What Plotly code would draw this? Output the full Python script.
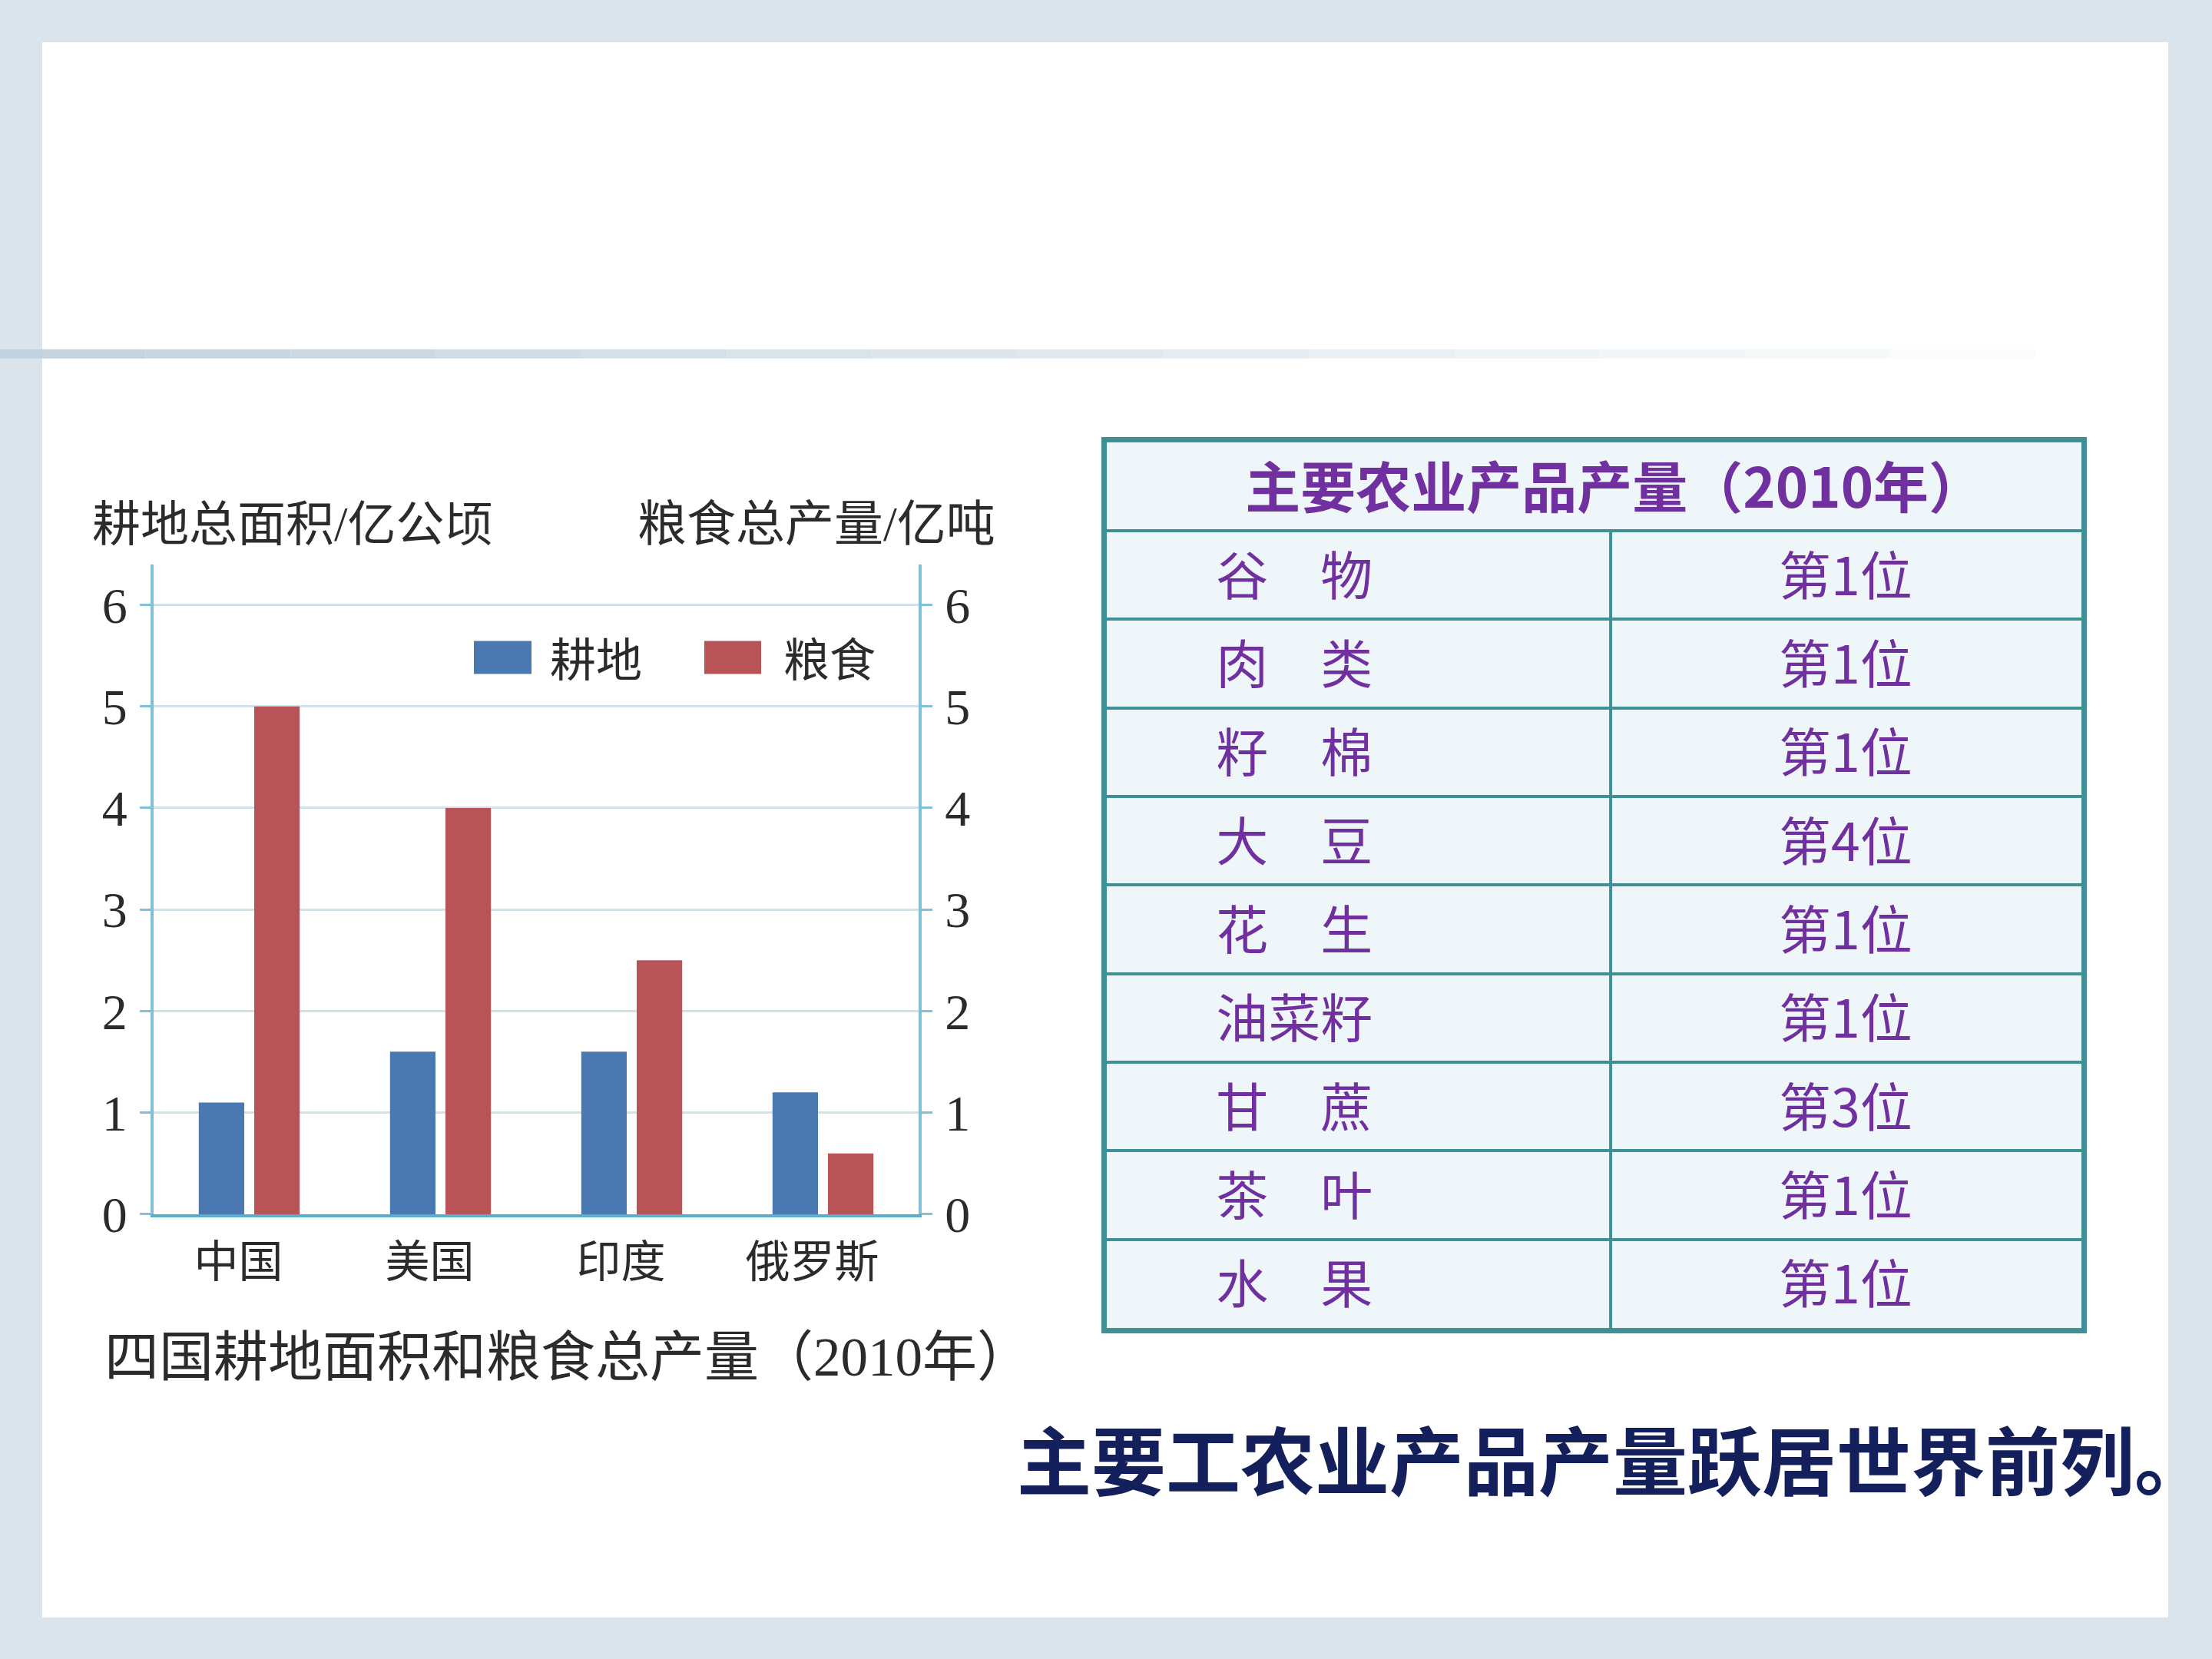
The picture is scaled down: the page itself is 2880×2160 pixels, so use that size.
import plotly.graph_objects as go

# ---------------- data ----------------
countries = ["中国", "美国", "印度", "俄罗斯"]
arable_area = [1.1, 1.6, 1.6, 1.2]      # 耕地总面积 / 亿公顷
grain_output = [5.0, 4.0, 2.5, 0.6]     # 粮食总产量 / 亿吨
y_ticks = [0, 1, 2, 3, 4, 5, 6]

products = ["谷　物", "肉　类", "籽　棉", "大　豆", "花　生", "油菜籽", "甘　蔗", "茶　叶", "水　果"]
ranks = [1, 1, 1, 4, 1, 1, 3, 1, 1]
table_title = "主要农业产品产量（2010年）"

# ---------------- helpers ----------------
W, H = 2880, 2160
S = 0.9835   # vertical correction for the capture
def X(px):
    return px / W
def Y(py):
    return 1 - (py / S) / H

BLUE = "#4a78b0"
RED = "#b85458"
AXIS = "#80c0d8"
GRID = "#cfe3ea"
TEAL = "#3f9094"
PURPLE = "#7030a0"
TXT = "#2b2b2b"
BG = "#dbe4eb"
CJK = "Noto Sans CJK SC"
SERIF = "Liberation Serif, Noto Sans CJK SC"

fig = go.Figure()

fig.add_trace(go.Bar(
    x=countries, y=arable_area, name="耕地", marker=dict(color=BLUE, line=dict(width=0)),
    offsetgroup="a", alignmentgroup="g", xaxis="x", yaxis="y", hoverinfo="skip", showlegend=False))
fig.add_trace(go.Bar(
    x=countries, y=grain_output, name="粮食", marker=dict(color=RED, line=dict(width=0)),
    offsetgroup="b", alignmentgroup="g", xaxis="x", yaxis="y2", hoverinfo="skip", showlegend=False))

# ---------------- table (own axes) ----------------
TXT_DY = 0.08  # small optical offset so glyphs sit centred in each row
row_text_y = [i + 1.5 + TXT_DY for i in range(len(products))]
fig.add_trace(go.Scatter(
    x=[0.112] * len(products), y=row_text_y, text=products, mode="text",
    textposition="middle right", textfont=dict(family=CJK, size=68, color=PURPLE),
    xaxis="x3", yaxis="y3", hoverinfo="skip", showlegend=False))
fig.add_trace(go.Scatter(
    x=[0.758] * len(ranks), y=row_text_y, text=[f"第{r}位" for r in ranks], mode="text",
    textposition="middle center", textfont=dict(family=CJK, size=68, color=PURPLE),
    xaxis="x3", yaxis="y3", hoverinfo="skip", showlegend=False))
fig.add_trace(go.Scatter(
    x=[0.521], y=[0.5 + TXT_DY], text=[f"<b>{table_title}</b>"], mode="text",
    textposition="middle center", textfont=dict(family=CJK, size=72, color=PURPLE),
    xaxis="x3", yaxis="y3", hoverinfo="skip", showlegend=False))

shapes = []
# slide background panel
shapes.append(dict(type="rect", xref="paper", yref="paper", x0=X(55), x1=X(2823), y0=Y(55), y1=Y(2107),
                   fillcolor="white", line=dict(width=0), layer="below"))
# fading band under title area
n_seg = 14
for i in range(n_seg):
    a = 0.95 * (1 - i / n_seg)
    shapes.append(dict(type="rect", xref="paper", yref="paper",
                       x0=X(0 + i * 2650 / n_seg), x1=X(0 + (i + 1) * 2650 / n_seg),
                       y0=Y(455), y1=Y(467), fillcolor=f"rgba(192,209,221,{a:.3f})",
                       line=dict(width=0), layer="below"))
# legend swatches
shapes.append(dict(type="rect", xref="paper", yref="paper", x0=X(617), x1=X(692), y0=Y(835), y1=Y(878),
                   fillcolor=BLUE, line=dict(width=0)))
shapes.append(dict(type="rect", xref="paper", yref="paper", x0=X(917), x1=X(991), y0=Y(835), y1=Y(878),
                   fillcolor=RED, line=dict(width=0)))
# table fill and column divider
shapes.append(dict(type="rect", xref="x3", yref="y3", x0=0, x1=1, y0=0, y1=10,
                   fillcolor="#eff6f9", line=dict(width=0), layer="below"))
shapes.append(dict(type="line", xref="x3", yref="y3", x0=0.517, x1=0.517, y0=1, y1=10,
                   line=dict(color=TEAL, width=4)))

annotations = [
    dict(text="耕地总面积/亿公顷", x=X(118), y=Y(683), xanchor="left", yanchor="middle",
         font=dict(family=SERIF, size=63, color=TXT)),
    dict(text="粮食总产量/亿吨", x=X(1298), y=Y(683), xanchor="right", yanchor="middle",
         font=dict(family=SERIF, size=64, color=TXT)),
    dict(text="耕地", x=X(714), y=Y(855), xanchor="left", yanchor="middle",
         font=dict(family=CJK, size=60, color=TXT)),
    dict(text="粮食", x=X(1018), y=Y(855), xanchor="left", yanchor="middle",
         font=dict(family=CJK, size=60, color=TXT)),
    dict(text="四国耕地面积和粮食总产量（2010年）", x=X(134), y=Y(1768), xanchor="left", yanchor="middle",
         font=dict(family=SERIF, size=71, color=TXT)),
    dict(text="<b>主要工农业产品产量跃居世界前列。</b>", x=X(1322), y=Y(1898), xanchor="left", yanchor="middle",
         font=dict(family=CJK, size=97, color="#14205c")),
]
for a in annotations:
    a.update(xref="paper", yref="paper", showarrow=False)

fig.update_layout(
    width=W, height=H, margin=dict(l=0, r=0, t=0, b=0),
    paper_bgcolor=BG, plot_bgcolor="rgba(0,0,0,0)",
    barmode="group", bargap=0.42, bargroupgap=0.18,
    showlegend=False, shapes=shapes, annotations=annotations,
    xaxis=dict(domain=[X(200), X(1196)], anchor="y", range=[-0.5, 3.5],
               showline=True, linecolor="#5aaecb", linewidth=4, ticks="", showgrid=False,
               zeroline=False, ticklabelstandoff=8, ticklabelshift=-14,
               tickfont=dict(family=CJK, size=58, color=TXT), fixedrange=True),
    yaxis=dict(domain=[Y(1582), Y(735)], anchor="x", range=[0, 6.4], tickvals=y_ticks,
               showgrid=True, gridcolor=GRID, gridwidth=3, zeroline=False,
               showline=True, linecolor=AXIS, linewidth=4,
               ticks="outside", ticklen=14, tickwidth=3, tickcolor=AXIS, ticklabelstandoff=3,
               tickfont=dict(family="Liberation Serif", size=66, color=TXT), fixedrange=True),
    yaxis2=dict(overlaying="y", side="right", anchor="x", range=[0, 6.4], tickvals=y_ticks,
                showgrid=False, zeroline=False, showline=True, linecolor=AXIS, linewidth=4,
                ticks="outside", ticklen=14, tickwidth=3, tickcolor=AXIS, ticklabelstandoff=3,
                tickfont=dict(family="Liberation Serif", size=66, color=TXT), fixedrange=True),
    xaxis3=dict(domain=[X(1441), X(2710)], anchor="y3", range=[0, 1], showgrid=False,
                showline=True, mirror=True, linecolor=TEAL, linewidth=7, ticks="",
                showticklabels=False, zeroline=False, fixedrange=True),
    yaxis3=dict(domain=[Y(1730), Y(576)], anchor="x3", range=[10, 0], tickvals=list(range(1, 10)),
                showgrid=True, gridcolor=TEAL, gridwidth=4,
                showline=True, mirror=True, linecolor=TEAL, linewidth=7, ticks="",
                showticklabels=False, zeroline=False, fixedrange=True),
)

fig.write_html(
    "out.html",
    config={"displayModeBar": False},
    post_script=("document.documentElement.style.background='%s';"
                 "document.body.style.background='%s';" % (BG, BG)),
)
